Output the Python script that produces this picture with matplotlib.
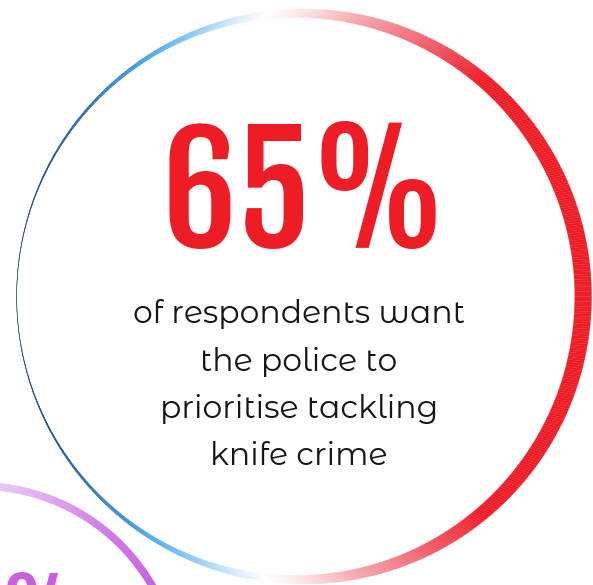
import numpy as np
import matplotlib
matplotlib.use("Agg")
import matplotlib.pyplot as plt
from matplotlib.collections import PolyCollection
from matplotlib.colors import to_rgb

# data
stat_value = 65
stat_text = f"{stat_value}%"
label_lines = [
    "of respondents want",
    "the police to",
    "prioritise tackling",
    "knife crime",
]
next_stat_text = "%"  # cut off at the bottom-left in the original

W, H = 593, 585
RED = "#ee1c25"
PURPLE = "#c95fdf"

# colour stops round the ring, angle measured from the right (degrees)
ring_stops = [
    (0, RED), (50, RED), (65, "#f26672"), (78, "#f6a5aa"), (90, "#fde6e8"),
    (97, "#ffffff"), (104, "#cfe9fc"), (115, "#72c0f6"), (125, "#3f9ae0"),
    (140, "#2466a8"), (155, "#123f75"), (180, "#0b2d5e"),
]
purple_stops = [(0, PURPLE), (31, PURPLE), (53, "#d27ee6"), (75, "#e4b4f0"), (100, "#f2e0f9")]


def stop_colour(stops, a):
    angs = np.array([s[0] for s in stops], dtype=float)
    cols = np.array([to_rgb(s[1]) for s in stops])
    return np.array([np.interp(a, angs, cols[:, k]) for k in range(3)]).T


def band(cx, cy, R, icx, icy, r, t0, t1, n):
    # quads between an outer circle and an (offset) inner circle, y down
    t = np.radians(np.linspace(t0, t1, n + 1))
    ox, oy = cx + R * np.cos(t), cy - R * np.sin(t)
    ix, iy = icx + r * np.cos(t), icy - r * np.sin(t)
    quads = []
    for i in range(n):
        quads.append([(ox[i], oy[i]), (ox[i + 1], oy[i + 1]),
                      (ix[i + 1], iy[i + 1]), (ix[i], iy[i])])
    mid = np.degrees((t[:-1] + t[1:]) / 2)
    return quads, mid


fig = plt.figure(figsize=(W / 100, H / 100), dpi=100)
ax = fig.add_axes([0, 0, 1, 1])
ax.set_xlim(0, W)
ax.set_ylim(H, 0)
ax.axis("off")

# main ring: thin on the left, thick on the right
cx, cy, R = 304, 296.5, 287.5
quads, mid = band(cx, cy, R, cx - 8.2, cy, R - 8.5, 0, 360, 720)
fold = np.abs(((mid + 180) % 360) - 180)
cols = stop_colour(ring_stops, fold)
ax.add_collection(PolyCollection(quads, facecolors=cols, edgecolors=cols, linewidths=0.2))

# purple ring peeking in at the bottom-left
pcx, pcy, pr = -21, 686, 200
quads, mid = band(pcx, pcy, pr + 3.5, pcx, pcy, pr - 3.5, 10, 120, 300)
cols = stop_colour(purple_stops, mid)
ax.add_collection(PolyCollection(quads, facecolors=cols, edgecolors=cols, linewidths=0.4))

big_font = ["Fjalla One", "DejaVu Sans"]
ax.text(304, 248, stat_text, ha="center", va="baseline", color=RED,
        fontsize=107, family=big_font)
ax.text(0, 567, next_stat_text, ha="left", va="top", color=PURPLE,
        fontsize=68, family=big_font)

body_font = ["Montserrat Alternates", "Open Sans", "DejaVu Sans"]
baselines = [323, 371, 418, 465]
for line, yb in zip(label_lines, baselines):
    ax.text(299, yb, line, ha="center", va="baseline", color="#161616",
            fontsize=22.6, fontweight=400, family=body_font)

fig.savefig("out.png", dpi=100, facecolor="white")
